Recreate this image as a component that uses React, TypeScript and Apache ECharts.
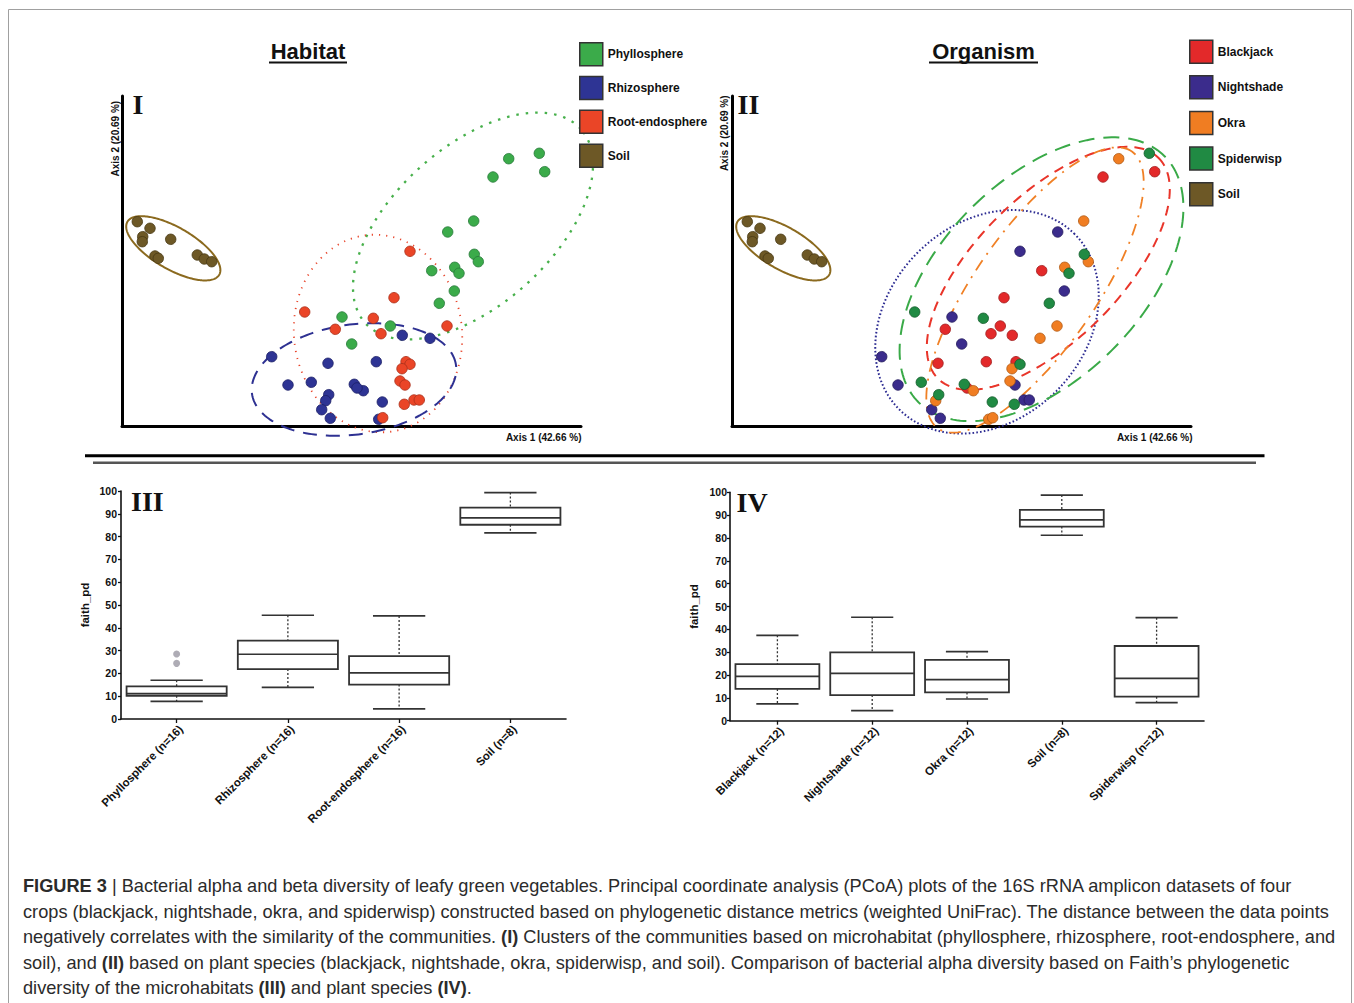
import React, { useEffect, useRef } from 'react';
import * as echarts from 'echarts';

const SANS = "'Liberation Sans', Arial, Helvetica, sans-serif";
const SERIF = "'Liberation Serif', 'Times New Roman', serif";

// ---------- PCoA (weighted UniFrac) sample scores: [axis 1, axis 2, plant species] ----------
const habitatNames = ['Phyllosphere', 'Rhizosphere', 'Root-endosphere', 'Soil'];
const organismNames = ['Blackjack', 'Nightshade', 'Okra', 'Spiderwisp', 'Soil'];

const phyllosphereScores: [number, number, string][] = [
  [417.3, 272.7, 'Spiderwisp'], [386.7, 267.3, 'Okra'], [422.7, 254.3, 'Blackjack'], [371.0, 249.0, 'Blackjack'],
  [351.7, 205.0, 'Okra'], [325.7, 194.0, 'Nightshade'], [352.3, 171.7, 'Spiderwisp'], [356.3, 164.3, 'Okra'],
  [332.7, 158.7, 'Okra'], [337.0, 152.7, 'Spiderwisp'], [309.7, 155.3, 'Blackjack'], [332.3, 135.0, 'Nightshade'],
  [317.3, 122.7, 'Spiderwisp'], [220.0, 109.0, 'Nightshade'], [268.3, 100.0, 'Blackjack'], [229.7, 82.0, 'Nightshade'],
];
const rhizosphereScores: [number, number, string][] = [
  [280.3, 90.7, 'Blackjack'], [308.0, 87.7, 'Okra'], [149.7, 69.3, 'Nightshade'], [206.0, 62.7, 'Blackjack'],
  [254.3, 64.3, 'Blackjack'], [166.0, 41.0, 'Nightshade'], [189.3, 43.7, 'Spiderwisp'], [232.3, 41.7, 'Spiderwisp'],
  [241.3, 35.3, 'Okra'], [206.7, 31.3, 'Spiderwisp'], [203.7, 25.3, 'Okra'], [260.3, 24.0, 'Spiderwisp'],
  [199.7, 16.3, 'Nightshade'], [208.3, 7.7, 'Nightshade'], [256.7, 6.7, 'Okra'], [235.0, 38.0, 'Blackjack'],
];
const rootEndosphereScores: [number, number, string][] = [
  [288.0, 174.7, 'Nightshade'], [272.0, 128.3, 'Blackjack'], [182.7, 114.0, 'Spiderwisp'], [251.3, 107.7, 'Spiderwisp'],
  [213.3, 96.7, 'Blackjack'], [259.0, 92.3, 'Blackjack'], [325.0, 100.0, 'Okra'], [284.0, 64.3, 'Blackjack'],
  [288.0, 61.7, 'Spiderwisp'], [280.0, 57.3, 'Okra'], [278.0, 45.0, 'Okra'], [283.0, 41.0, 'Nightshade'],
  [292.0, 26.0, 'Nightshade'], [297.3, 26.0, 'Nightshade'], [282.3, 21.7, 'Spiderwisp'], [260.7, 8.3, 'Okra'],
];
const soilScores: [number, number, string][] = [
  [15.3, 204.3, 'Soil'], [28.0, 197.7, 'Soil'], [20.7, 189.3, 'Soil'], [20.3, 184.3, 'Soil'], [48.7, 186.7, 'Soil'],
  [33.0, 170.0, 'Soil'], [36.3, 167.7, 'Soil'], [75.3, 171.0, 'Soil'], [82.3, 167.0, 'Soil'], [89.7, 164.3, 'Soil'],
];

// ---------- confidence ellipses: [centre axis 1, centre axis 2, semi-major, semi-minor, angle deg] ----------
const phyllosphereEllipse = [351, 200, 145, 79, 42];
const rhizosphereEllipse = [232, 46.5, 103, 55, 8];
const rootEndosphereEllipse = [256, 92.5, 99, 84, 97];
const soilEllipse = [51.3, 177.7, 53, 21, -30];
const blackjackEllipse = [316.3, 157.7, 156, 72, 45];
const nightshadeEllipse = [255, 104.2, 124, 98, 45];
const okraEllipse = [303, 136, 169, 60, 55];
const spiderwispEllipse = [309.5, 146.8, 174, 100, 45];

// ---------- Faith's PD box statistics: [min, Q1, median, Q3, max] ----------
const habitatCategories = ['Phyllosphere (n=16)', 'Rhizosphere (n=16)', 'Root-endosphere (n=16)', 'Soil (n=8)'];
const habitatFaith = [
  [7.7, 10.2, 11.1, 14.3, 17.0],
  [13.9, 21.9, 28.4, 34.4, 45.5],
  [4.4, 15.1, 20.2, 27.6, 45.2],
  [81.6, 85.2, 88.2, 92.7, 99.3],
];
const habitatOutliers = [[0, 28.5], [0, 24.4]];
const organismCategories = ['Blackjack (n=12)', 'Nightshade (n=12)', 'Okra (n=12)', 'Soil (n=8)', 'Spiderwisp (n=12)'];
const organismFaith = [
  [7.4, 13.9, 19.4, 24.8, 37.4],
  [4.4, 11.2, 20.7, 29.9, 45.3],
  [9.5, 12.4, 18.0, 26.6, 30.2],
  [81.2, 85.0, 87.9, 92.3, 98.8],
  [7.9, 10.5, 18.5, 32.7, 45.1],
];

const captionLines = [
  '{b|FIGURE 3} | Bacterial alpha and beta diversity of leafy green vegetables. Principal coordinate analysis (PCoA) plots of the 16S rRNA amplicon datasets of four',
  'crops (blackjack, nightshade, okra, and spiderwisp) constructed based on phylogenetic distance metrics (weighted UniFrac). The distance between the data points',
  'negatively correlates with the similarity of the communities. {b|(I)} Clusters of the communities based on microhabitat (phyllosphere, rhizosphere, root-endosphere, and',
  'soil), and {b|(II)} based on plant species (blackjack, nightshade, okra, spiderwisp, and soil). Comparison of bacterial alpha diversity based on Faith\u2019s phylogenetic',
  'diversity of the microhabitats {b|(III)} and plant species {b|(IV)}.',
];

const habitatColors: Record<string, [string, string]> = {
  Phyllosphere: ['#3bab4a', '#27783a'],
  Rhizosphere: ['#2e3494', '#1c1f66'],
  'Root-endosphere': ['#ea4527', '#a8301a'],
  Soil: ['#6d5826', '#473914'],
};
const organismColors: Record<string, [string, string]> = {
  Blackjack: ['#e3292a', '#a01c1c'],
  Nightshade: ['#3b2c8c', '#231a5c'],
  Okra: ['#f07d22', '#b05a15'],
  Spiderwisp: ['#208a43', '#135c2b'],
  Soil: ['#6d5826', '#473914'],
};

function ellipseRenderer(stroke: string, lineWidth: number, lineDash: number[] | null) {
  return (_params: any, api: any) => {
    const cx = api.value(0);
    const cy = api.value(1);
    const a = api.value(2);
    const b = api.value(3);
    const ang = (api.value(4) * Math.PI) / 180;
    const pts: number[][] = [];
    const n = 200;
    for (let i = 0; i <= n; i++) {
      const t = (i / n) * Math.PI * 2;
      const x = cx + a * Math.cos(t) * Math.cos(ang) - b * Math.sin(t) * Math.sin(ang);
      const y = cy + a * Math.cos(t) * Math.sin(ang) + b * Math.sin(t) * Math.cos(ang);
      pts.push(api.coord([x, y]));
    }
    return {
      type: 'polyline',
      shape: { points: pts },
      style: { stroke, lineWidth, lineDash: lineDash || undefined, fill: null },
      silent: true,
    };
  };
}

function boxRenderer(boxFrac: number, capFrac: number) {
  return (_params: any, api: any) => {
    const i = api.value(0);
    const pLow = api.coord([i, api.value(1)]);
    const pQ1 = api.coord([i, api.value(2)]);
    const pMed = api.coord([i, api.value(3)]);
    const pQ3 = api.coord([i, api.value(4)]);
    const pHigh = api.coord([i, api.value(5)]);
    const band = api.size([1, 0])[0];
    const hw = (band * boxFrac) / 2;
    const cw = (band * capFrac) / 2;
    const x = pMed[0];
    const solid = { stroke: '#333', lineWidth: 1.7, fill: null };
    const dotted = { stroke: '#333', lineWidth: 1.3, lineDash: [2, 2], fill: null };
    return {
      type: 'group',
      children: [
        { type: 'line', shape: { x1: x, y1: pHigh[1], x2: x, y2: pQ3[1] }, style: dotted },
        { type: 'line', shape: { x1: x, y1: pQ1[1], x2: x, y2: pLow[1] }, style: dotted },
        { type: 'line', shape: { x1: x - cw, y1: pHigh[1], x2: x + cw, y2: pHigh[1] }, style: solid },
        { type: 'line', shape: { x1: x - cw, y1: pLow[1], x2: x + cw, y2: pLow[1] }, style: solid },
        {
          type: 'rect',
          shape: { x: x - hw, y: pQ3[1], width: hw * 2, height: pQ1[1] - pQ3[1] },
          style: { fill: '#fff', stroke: '#333', lineWidth: 1.8 },
        },
        { type: 'line', shape: { x1: x - hw, y1: pMed[1], x2: x + hw, y2: pMed[1] }, style: solid },
      ],
    };
  };
}

function scatterAxis(gridIndex: number, max: number) {
  return {
    gridIndex,
    type: 'value',
    min: 0,
    max,
    axisLine: { show: true, onZero: false, lineStyle: { color: '#000', width: 3 } },
    axisTick: { show: false },
    axisLabel: { show: false },
    splitLine: { show: false },
  };
}

function boxYAxis(gridIndex: number, margin: number) {
  return {
    gridIndex,
    type: 'value',
    min: 0,
    max: 100,
    interval: 10,
    axisLine: { show: true, lineStyle: { color: '#111', width: 1.6 } },
    axisTick: { show: true, length: 3, lineStyle: { color: '#111', width: 1.3 } },
    axisLabel: { fontSize: 10.5, fontWeight: 'bold', color: '#111', fontFamily: SANS, margin },
    splitLine: { show: false },
    name: 'faith_pd',
    nameLocation: 'middle',
    nameGap: 30,
    nameTextStyle: { fontSize: 11.5, fontWeight: 'bold', color: '#111', fontFamily: SANS },
  };
}

function boxXAxis(gridIndex: number, data: string[]) {
  return {
    gridIndex,
    type: 'category',
    data,
    axisLine: { show: true, lineStyle: { color: '#111', width: 1.6 } },
    axisTick: { show: true, alignWithLabel: true, length: 4, lineStyle: { color: '#111', width: 1.3 } },
    axisLabel: {
      rotate: 45, interval: 0, fontSize: 11.5, fontWeight: 'bold', color: '#111', fontFamily: SANS,
      margin: 4, verticalAlign: 'top',
    },
    splitLine: { show: false },
  };
}

function buildOption() {
  const allSamples = [...phyllosphereScores, ...rhizosphereScores, ...rootEndosphereScores, ...soilScores];
  const habitatData: Record<string, [number, number, string][]> = {
    Phyllosphere: phyllosphereScores,
    Rhizosphere: rhizosphereScores,
    'Root-endosphere': rootEndosphereScores,
    Soil: soilScores,
  };

  const series: any[] = [];
  // Panel I ellipses
  const ell1: [string, number[], string, number, number[] | null][] = [
    ['Soil ellipse', soilEllipse, '#8b6a1f', 2, null],
    ['Phyllosphere ellipse', phyllosphereEllipse, '#47b04b', 2.3, [2.5, 7]],
    ['Root-endosphere ellipse', rootEndosphereEllipse, '#e8452b', 1.8, [1.2, 6]],
    ['Rhizosphere ellipse', rhizosphereEllipse, '#2e3192', 2, [14, 9]],
  ];
  ell1.forEach(([name, e, c, w, d]) =>
    series.push({
      type: 'custom', name, xAxisIndex: 0, yAxisIndex: 0, data: [e], encode: { x: 0, y: 1 },
      renderItem: ellipseRenderer(c, w, d), z: 2, clip: false, silent: true,
    })
  );
  const ell2: [string, number[], string, number, number[] | null][] = [
    ['Soil ellipse 2', soilEllipse, '#8b6a1f', 2, null],
    ['Nightshade ellipse', nightshadeEllipse, '#2d2c92', 2, [1.6, 2.2]],
    ['Spiderwisp ellipse', spiderwispEllipse, '#3aaa48', 2, [16, 9]],
    ['Blackjack ellipse', blackjackEllipse, '#e9352a', 2, [10, 7]],
    ['Okra ellipse', okraEllipse, '#f08025', 1.8, [12, 7, 2, 7]],
  ];
  ell2.forEach(([name, e, c, w, d]) =>
    series.push({
      type: 'custom', name, xAxisIndex: 1, yAxisIndex: 1, data: [e], encode: { x: 0, y: 1 },
      renderItem: ellipseRenderer(c, w, d), z: 2, clip: false, silent: true,
    })
  );
  // Panel I points
  habitatNames.forEach((h) =>
    series.push({
      type: 'scatter', name: h, xAxisIndex: 0, yAxisIndex: 0,
      data: habitatData[h].map((s) => [s[0], s[1]]),
      symbolSize: 10.5,
      itemStyle: { color: habitatColors[h][0], borderColor: habitatColors[h][1], borderWidth: 0.8, opacity: 1 },
      z: 3,
    })
  );
  // Panel II points
  organismNames.forEach((o) =>
    series.push({
      type: 'scatter', name: o, xAxisIndex: 1, yAxisIndex: 1,
      data: allSamples.filter((s) => s[2] === o).map((s) => [s[0], s[1]]),
      symbolSize: 10.5,
      itemStyle: { color: organismColors[o][0], borderColor: organismColors[o][1], borderWidth: 0.8, opacity: 1 },
      z: 3,
    })
  );
  // Panel III & IV boxes
  series.push({
    type: 'custom', name: 'Faith PD by habitat', xAxisIndex: 2, yAxisIndex: 2,
    data: habitatFaith.map((d, i) => [i, ...d]), encode: { x: 0, y: [1, 2, 3, 4, 5] },
    renderItem: boxRenderer(0.9, 0.47), z: 2,
  });
  series.push({
    type: 'scatter', name: 'Outliers', xAxisIndex: 2, yAxisIndex: 2, data: habitatOutliers,
    symbolSize: 7, itemStyle: { color: '#9a97a2' }, z: 3,
  });
  series.push({
    type: 'custom', name: 'Faith PD by organism', xAxisIndex: 3, yAxisIndex: 3,
    data: organismFaith.map((d, i) => [i, ...d]), encode: { x: 0, y: [1, 2, 3, 4, 5] },
    renderItem: boxRenderer(0.885, 0.445), z: 2,
  });

  const legendCommon = {
    orient: 'vertical',
    icon: 'rect',
    itemWidth: 23,
    itemHeight: 23,
    selectedMode: false,
    padding: 0,
    textStyle: { fontSize: 12, fontWeight: 'bold', color: '#111', fontFamily: SANS },
    itemStyle: { borderColor: '#333', borderWidth: 1.5 },
  };

  const captionGraphics = captionLines.map((line, i) => ({
    type: 'text',
    x: 23,
    y: 886 + i * 25.5,
    style: {
      text: line,
      fontSize: 18.2,
      fontFamily: SANS,
      fill: '#2b2b2b',
      align: 'left',
      verticalAlign: 'middle',
      rich: { b: { fontWeight: 'bold', fontSize: 18.2, fontFamily: SANS, fill: '#2b2b2b', color: '#2b2b2b' } },
    },
  }));

  const graphic: any[] = [
    { type: 'rect', shape: { x: 8.5, y: 9.5, width: 1343, height: 1010 }, style: { fill: null, stroke: '#a0a0a0', lineWidth: 1 }, silent: true },
    // titles
    { type: 'text', x: 308, y: 51.5, style: { text: 'Habitat', fontSize: 22, fontWeight: 'bold', fontFamily: SANS, fill: '#111', align: 'center', verticalAlign: 'middle' } },
    { type: 'line', shape: { x1: 269, y1: 62.5, x2: 347, y2: 62.5 }, style: { stroke: '#111', lineWidth: 1.8 } },
    { type: 'text', x: 983.5, y: 51.5, style: { text: 'Organism', fontSize: 22, fontWeight: 'bold', fontFamily: SANS, fill: '#111', align: 'center', verticalAlign: 'middle' } },
    { type: 'line', shape: { x1: 929, y1: 62.5, x2: 1038, y2: 62.5 }, style: { stroke: '#111', lineWidth: 1.8 } },
    // panel numerals
    { type: 'text', x: 132.5, y: 104, style: { text: 'I', fontSize: 28, fontWeight: 'bold', fontFamily: SERIF, fill: '#111', align: 'left', verticalAlign: 'middle' } },
    { type: 'text', x: 737.5, y: 104, style: { text: 'II', fontSize: 28, fontWeight: 'bold', fontFamily: SERIF, fill: '#111', align: 'left', verticalAlign: 'middle' } },
    { type: 'text', x: 131, y: 501, style: { text: 'III', fontSize: 28, fontWeight: 'bold', fontFamily: SERIF, fill: '#111', align: 'left', verticalAlign: 'middle' } },
    { type: 'text', x: 736.5, y: 502, style: { text: 'IV', fontSize: 28, fontWeight: 'bold', fontFamily: SERIF, fill: '#111', align: 'left', verticalAlign: 'middle' } },
    // PCoA axis titles
    { type: 'text', x: 115, y: 138.7, rotation: Math.PI / 2, style: { text: 'Axis 2 (20.69 %)', fontSize: 10, fontWeight: 'bold', fontFamily: SANS, fill: '#111', align: 'center', verticalAlign: 'middle' } },
    { type: 'text', x: 724.3, y: 133.3, rotation: Math.PI / 2, style: { text: 'Axis 2 (20.69 %)', fontSize: 10, fontWeight: 'bold', fontFamily: SANS, fill: '#111', align: 'center', verticalAlign: 'middle' } },
    { type: 'text', x: 581.5, y: 437.5, style: { text: 'Axis 1 (42.66 %)', fontSize: 10, fontWeight: 'bold', fontFamily: SANS, fill: '#111', align: 'right', verticalAlign: 'middle' } },
    { type: 'text', x: 1192.5, y: 437.5, style: { text: 'Axis 1 (42.66 %)', fontSize: 10, fontWeight: 'bold', fontFamily: SANS, fill: '#111', align: 'right', verticalAlign: 'middle' } },
    // separators
    { type: 'line', shape: { x1: 85, y1: 455.8, x2: 1264.5, y2: 455.8 }, style: { stroke: '#000', lineWidth: 3 } },
    { type: 'line', shape: { x1: 93, y1: 462.8, x2: 1256, y2: 462.8 }, style: { stroke: '#555', lineWidth: 2.5 } },
    ...captionGraphics,
  ];

  return {
    animation: false,
    backgroundColor: '#fff',
    textStyle: { fontFamily: SANS },
    grid: [
      { left: 122, top: 96, width: 459, height: 330 },
      { left: 732, top: 96, width: 459, height: 330 },
      { left: 121, top: 491, width: 445, height: 228 },
      { left: 730, top: 492.3, width: 474, height: 228.4 },
    ],
    xAxis: [scatterAxis(0, 459), scatterAxis(1, 459), boxXAxis(2, habitatCategories), boxXAxis(3, organismCategories)],
    yAxis: [scatterAxis(0, 330), scatterAxis(1, 330), boxYAxis(2, 4), boxYAxis(3, 3)],
    legend: [
      { ...legendCommon, left: 579, top: 42, itemGap: 9.3, data: habitatNames },
      { ...legendCommon, left: 1189, top: 39.5, itemGap: 11.1, data: organismNames },
    ],
    series,
    graphic,
  };
}

export default function App() {
  const ref = useRef<HTMLDivElement>(null);
  useEffect(() => {
    document.body.style.margin = '0';
    const chart = echarts.init(ref.current as HTMLDivElement, null, { renderer: 'svg' });
    chart.setOption(buildOption() as any);
    return () => chart.dispose();
  }, []);
  return <div ref={ref} style={{ width: 1354, height: 1003 }} />;
}
